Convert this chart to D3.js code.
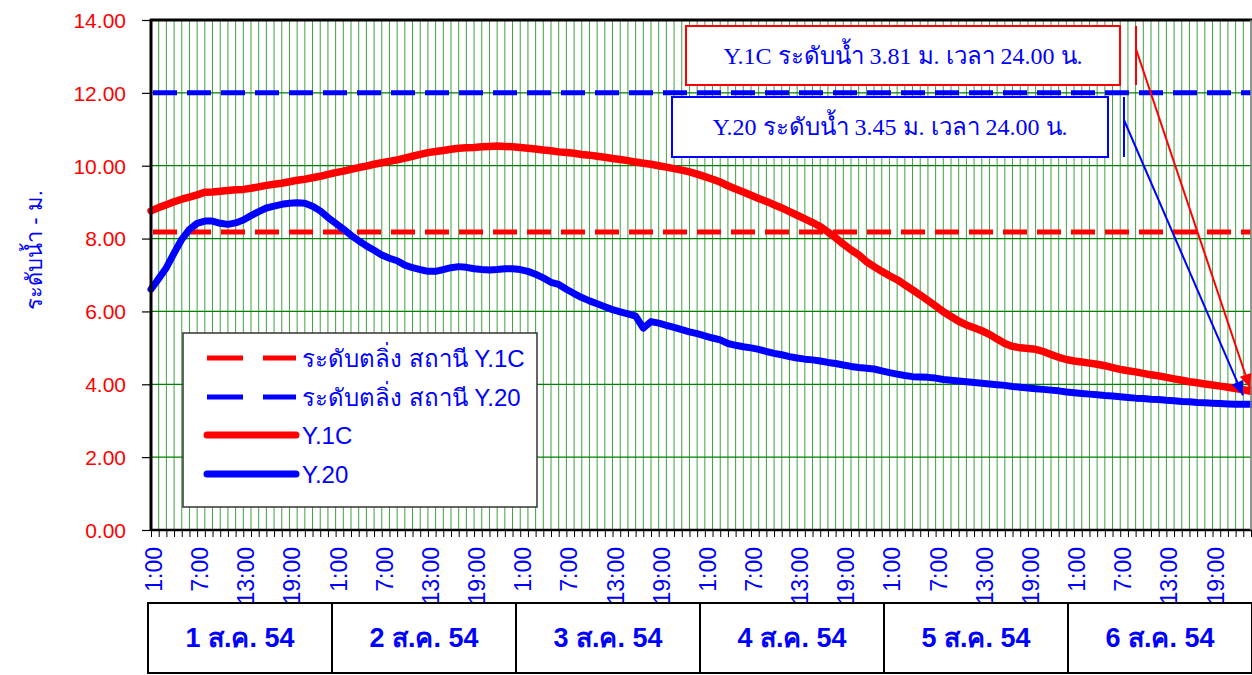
<!DOCTYPE html>
<html>
<head>
<meta charset="utf-8">
<script src="https://cdn.jsdelivr.net/npm/d3@7"></script>
<style>
  html, body { margin: 0; padding: 0; background: #ffffff; }
  svg { display: block; }
</style>
</head>
<body>
<svg id="chart" width="1252" height="675"></svg>
<script>
// ---------------- DATA ----------------
const days = ["1 ส.ค. 54", "2 ส.ค. 54", "3 ส.ค. 54", "4 ส.ค. 54", "5 ส.ค. 54", "6 ส.ค. 54"];
const hourLabels = ["1:00","2:00","3:00","4:00","5:00","6:00","7:00","8:00","9:00","10:00","11:00","12:00",
                    "13:00","14:00","15:00","16:00","17:00","18:00","19:00","20:00","21:00","22:00","23:00","24:00"];
const shownTickLabels = ["1:00", "7:00", "13:00", "19:00"];
const yTicks = [0, 2, 4, 6, 8, 10, 12, 14];

// water level of station Y.1C (m), hourly 1 Aug 1:00 .. 6 Aug 24:00
const y1c = [
  8.76, 8.85, 8.93, 9.01, 9.08, 9.14, 9.20, 9.27, 9.28, 9.30, 9.32, 9.34,
  9.35, 9.38, 9.42, 9.46, 9.49, 9.52, 9.56, 9.60, 9.63, 9.67, 9.71, 9.76,
  9.81, 9.85, 9.90, 9.95, 9.99, 10.04, 10.08, 10.12, 10.16, 10.21, 10.26, 10.31,
  10.36, 10.39, 10.42, 10.45, 10.48, 10.49, 10.50, 10.52, 10.53, 10.54, 10.53, 10.52,
  10.50, 10.48, 10.46, 10.43, 10.41, 10.38, 10.36, 10.34, 10.31, 10.29, 10.26, 10.23,
  10.20, 10.17, 10.14, 10.10, 10.07, 10.04, 10.00, 9.96, 9.92, 9.88, 9.83, 9.77,
  9.70, 9.63, 9.55, 9.45, 9.36, 9.28, 9.19, 9.10, 9.02, 8.93, 8.84, 8.74,
  8.64, 8.54, 8.44, 8.33, 8.18, 8.02, 7.85, 7.69, 7.55, 7.37, 7.23, 7.10,
  6.98, 6.87, 6.73, 6.59, 6.45, 6.30, 6.15, 5.99, 5.86, 5.73, 5.63, 5.55,
  5.47, 5.37, 5.24, 5.12, 5.04, 5.00, 4.98, 4.96, 4.90, 4.82, 4.74, 4.68,
  4.64, 4.61, 4.58, 4.55, 4.51, 4.46, 4.41, 4.37, 4.34, 4.30, 4.26, 4.23,
  4.19, 4.15, 4.11, 4.07, 4.04, 4.01, 3.98, 3.95, 3.92, 3.88, 3.85, 3.81
];
// water level of station Y.20 (m)
const y20 = [
  6.61, 6.90, 7.20, 7.60, 7.98, 8.25, 8.42, 8.48, 8.48, 8.42, 8.39, 8.43,
  8.51, 8.63, 8.74, 8.84, 8.89, 8.94, 8.97, 8.98, 8.97, 8.89, 8.76, 8.58,
  8.42, 8.26, 8.09, 7.94, 7.80, 7.68, 7.55, 7.46, 7.39, 7.27, 7.20, 7.15,
  7.10, 7.10, 7.15, 7.20, 7.23, 7.21, 7.17, 7.15, 7.14, 7.15, 7.17, 7.17,
  7.15, 7.10, 7.02, 6.92, 6.80, 6.74, 6.61, 6.49, 6.38, 6.29, 6.21, 6.13,
  6.05, 5.99, 5.93, 5.87, 5.54, 5.72, 5.68, 5.62, 5.56, 5.50, 5.44, 5.39,
  5.33, 5.27, 5.22, 5.12, 5.07, 5.03, 5.00, 4.96, 4.90, 4.85, 4.81, 4.76,
  4.72, 4.69, 4.67, 4.64, 4.60, 4.57, 4.53, 4.49, 4.46, 4.44, 4.42, 4.37,
  4.32, 4.28, 4.24, 4.21, 4.20, 4.19, 4.17, 4.13, 4.11, 4.09, 4.07, 4.05,
  4.03, 4.01, 3.99, 3.97, 3.94, 3.92, 3.90, 3.88, 3.86, 3.84, 3.82, 3.79,
  3.77, 3.75, 3.73, 3.71, 3.69, 3.68, 3.66, 3.64, 3.62, 3.61, 3.59, 3.58,
  3.56, 3.55, 3.53, 3.52, 3.50, 3.49, 3.48, 3.47, 3.46, 3.45, 3.45, 3.45
];
const bankY1C = 8.18;
const bankY20 = 12.00;
const legendLabels = ["ระดับตลิ่ง สถานี Y.1C", "ระดับตลิ่ง สถานี Y.20", "Y.1C", "Y.20"];
const noteY1C = "Y.1C ระดับน้ำ 3.81 ม. เวลา 24.00 น.";
const noteY20 = "Y.20 ระดับน้ำ 3.45 ม. เวลา 24.00 น.";
const yTitle = "ระดับน้ำ - ม.";

// ---------------- CHART ----------------
(function () {
const RED = "#ff0000", BLUE = "#0000ff", GREEN = "#008000";
const SANS = "'Liberation Sans', 'Noto Sans', 'DejaVu Sans', sans-serif";
const SERIF = "'Liberation Serif', 'DejaVu Serif', serif";
const svg = d3.select("#chart");
const pL = 151, pR = 1251, pT = 20, pB = 530;

const cats = [];
days.forEach((d, di) => hourLabels.forEach((h, hi) => cats.push({ key: di * 24 + hi, day: d, hour: h })));
const x = d3.scalePoint().domain(cats.map(c => c.key)).range([pL, pR]);
const y = d3.scaleLinear().domain([0, 14]).range([pB, pT]);

// gridlines
const grid = svg.append("g");
grid.selectAll("line.v").data(cats).join("line")
  .attr("x1", c => x(c.key)).attr("x2", c => x(c.key))
  .attr("y1", pT).attr("y2", pB)
  .attr("stroke", GREEN).attr("stroke-width", 1).attr("stroke-opacity", 0.75);
grid.selectAll("line.h").data(yTicks.filter(t => t > 0 && t < 14)).join("line")
  .attr("x1", pL).attr("x2", pR)
  .attr("y1", t => y(t)).attr("y2", t => y(t))
  .attr("stroke", GREEN).attr("stroke-width", 1.2);

// bank lines (dashed)
const bankG = svg.append("g");
[[bankY1C, RED], [bankY20, BLUE]].forEach(([v, col]) => {
  bankG.append("line")
    .attr("x1", pL + 2).attr("x2", pR)
    .attr("y1", y(v)).attr("y2", y(v))
    .attr("stroke", col).attr("stroke-width", 5)
    .attr("stroke-dasharray", "24,10");
});

// series lines
const line = d3.line().x((d, i) => x(i)).y(d => y(d)).curve(d3.curveLinear);
svg.append("path").datum(y1c).attr("d", line)
  .attr("fill", "none").attr("stroke", RED).attr("stroke-width", 7.5)
  .attr("stroke-linejoin", "round").attr("stroke-linecap", "round");
svg.append("path").datum(y20).attr("d", line)
  .attr("fill", "none").attr("stroke", BLUE).attr("stroke-width", 7)
  .attr("stroke-linejoin", "round").attr("stroke-linecap", "round");

// axes
const yAxis = d3.axisLeft(y).tickValues(yTicks).tickSize(9).tickFormat(d3.format(".2f"));
const yg = svg.append("g").attr("transform", `translate(${pL},0)`).call(yAxis);
yg.select(".domain").remove();
yg.selectAll(".tick line").attr("stroke", "#000").attr("stroke-width", 1.2);
yg.selectAll(".tick text").attr("fill", RED).attr("font-size", 21)
  .attr("x", -25).attr("dy", "0.35em").attr("font-weight", "normal")
  .attr("font-family", SANS);

const xAxis = d3.axisBottom(x).tickSize(7).tickFormat("");
const xg = svg.append("g").attr("transform", `translate(0,${pB})`).call(xAxis);
xg.select(".domain").remove();
xg.selectAll(".tick line").attr("stroke", "#000").attr("stroke-width", 1);

// x tick labels (rotated)
svg.append("g").selectAll("text").data(cats.filter(c => shownTickLabels.includes(c.hour))).join("text")
  .attr("transform", c => `translate(${x(c.key) + 11},${547}) rotate(-90)`)
  .attr("text-anchor", "end")
  .attr("fill", BLUE).attr("font-size", 23).attr("font-family", SANS)
  .text(c => c.hour);

// frame
svg.append("line").attr("x1", pL - 1).attr("x2", pR + 1).attr("y1", pT).attr("y2", pT)
  .attr("stroke", "#000").attr("stroke-width", 3);
svg.append("line").attr("x1", pL).attr("x2", pL).attr("y1", pT - 1).attr("y2", pB + 1)
  .attr("stroke", "#000").attr("stroke-width", 3);
svg.append("line").attr("x1", pL).attr("x2", pR + 1).attr("y1", pB).attr("y2", pB)
  .attr("stroke", "#000").attr("stroke-width", 2.5);
svg.append("line").attr("x1", pR).attr("x2", pR).attr("y1", pT).attr("y2", pB)
  .attr("stroke", "#888").attr("stroke-width", 1.5);

// y title
svg.append("text")
  .attr("transform", `translate(42,${250}) rotate(-90)`)
  .attr("text-anchor", "middle").attr("fill", BLUE).attr("font-size", 22)
  .attr("font-family", SANS)
  .text(yTitle);

// day table
const tbl = svg.append("g");
const dayW = (pR + 1 - 148) / days.length;
tbl.selectAll("rect").data(days).join("rect")
  .attr("x", (d, i) => 148 + i * dayW).attr("y", 603)
  .attr("width", dayW).attr("height", 70)
  .attr("fill", "#fff").attr("stroke", "#000").attr("stroke-width", 2);
tbl.selectAll("text").data(days).join("text")
  .attr("x", (d, i) => 148 + (i + 0.5) * dayW).attr("y", 647)
  .attr("text-anchor", "middle").attr("fill", BLUE)
  .attr("font-size", 27).attr("font-weight", "bold").attr("font-family", SANS)
  .text(d => d);

// legend
const lg = svg.append("g");
lg.append("rect").attr("x", 183).attr("y", 333).attr("width", 354).attr("height", 174)
  .attr("fill", "#fff").attr("stroke", "#333").attr("stroke-width", 1.5);
const legendItems = [
  { label: legendLabels[0], color: RED, dash: true, cy: 358 },
  { label: legendLabels[1], color: BLUE, dash: true, cy: 397 },
  { label: legendLabels[2], color: RED, dash: false, cy: 435 },
  { label: legendLabels[3], color: BLUE, dash: false, cy: 474 }
];
legendItems.forEach(it => {
  lg.append("line").attr("x1", 207).attr("x2", 296).attr("y1", it.cy).attr("y2", it.cy)
    .attr("stroke", it.color).attr("stroke-width", it.dash ? 5 : 7)
    .attr("stroke-linecap", it.dash ? "butt" : "round")
    .attr("stroke-dasharray", it.dash ? "36,20" : null);
  lg.append("text").attr("x", 302).attr("y", it.cy + 9)
    .attr("fill", BLUE).attr("font-size", 24).attr("font-family", SANS).text(it.label);
});

// annotations
function note(bx, by, bw, bh, col, txt, vx, anchorY, tipX, tipY) {
  const g = svg.append("g");
  g.append("rect").attr("x", bx).attr("y", by).attr("width", bw).attr("height", bh)
    .attr("fill", "#fff").attr("stroke", col).attr("stroke-width", 2);
  g.append("text").attr("x", bx + bw / 2).attr("y", by + bh / 2 + 8)
    .attr("text-anchor", "middle").attr("fill", BLUE).attr("font-size", 24)
    .attr("font-family", SERIF)
    .text(txt);
  g.append("line").attr("x1", vx).attr("x2", vx).attr("y1", by).attr("y2", by + bh)
    .attr("stroke", col).attr("stroke-width", 2);
  g.append("line").attr("x1", vx).attr("y1", anchorY).attr("x2", tipX).attr("y2", tipY)
    .attr("stroke", col).attr("stroke-width", 2);
  const ang = Math.atan2(tipY - anchorY, tipX - vx);
  const L = 14, W = 6;
  const bx2 = tipX - L * Math.cos(ang), by2 = tipY - L * Math.sin(ang);
  const p1 = [bx2 + W * Math.sin(ang), by2 - W * Math.cos(ang)];
  const p2 = [bx2 - W * Math.sin(ang), by2 + W * Math.cos(ang)];
  g.append("path").attr("d", `M${tipX},${tipY}L${p1[0]},${p1[1]}L${p2[0]},${p2[1]}Z`)
    .attr("fill", col);
}
note(686, 26, 434, 59, RED, noteY1C, 1136, 49, x(143) - 1, y(y1c[143]) - 3);
note(672, 97, 436, 60, BLUE, noteY20, 1124, 120, x(143) - 8, y(y20[143]) - 9);
})();
</script>
</body>
</html>
